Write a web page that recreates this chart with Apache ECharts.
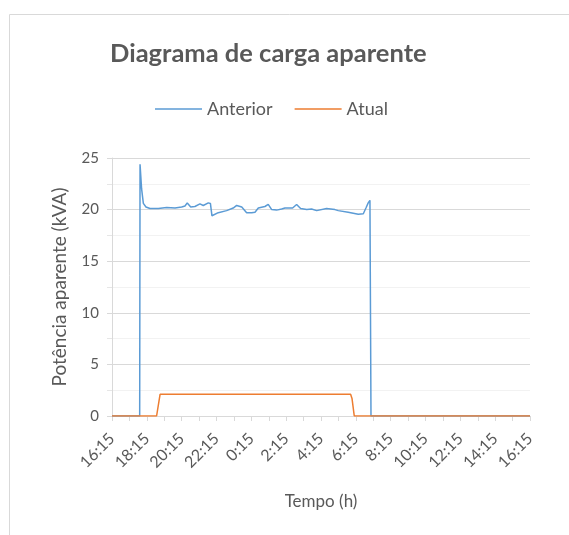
<!DOCTYPE html>
<html>
<head>
<meta charset="utf-8">
<script src="https://cdn.jsdelivr.net/npm/echarts@6/dist/echarts.min.js"></script>
<style>html,body{margin:0;padding:0;background:#fff}#c{width:569px;height:535px}</style>
</head>
<body>
<div id="c"></div>
<script>
// Hours elapsed since 16:15
const tickLabels = ['16:15','18:15','20:15','22:15','0:15','2:15','4:15','6:15','8:15','10:15','12:15','14:15','16:15'];
const anteriorHours = [0, 1.59, 1.61, 1.64, 1.70, 1.80, 1.95, 2.18, 2.66, 3.14, 3.62, 4.00, 4.19, 4.32, 4.52, 4.76, 5.05, 5.24, 5.53, 5.65, 5.74, 6.10, 6.58, 6.96, 7.16, 7.45, 7.73, 8.02, 8.21, 8.40, 8.78, 8.97, 9.17, 9.45, 9.74, 9.93, 10.37, 10.60, 10.83, 11.18, 11.46, 11.75, 12.32, 12.80, 12.99, 13.56, 14.14, 14.43, 14.58, 14.71, 14.81, 14.85, 14.87, 24];
const anteriorKVA   = [0, 0, 24.4, 24.4, 22.0, 20.6, 20.25, 20.1, 20.1, 20.2, 20.15, 20.25, 20.35, 20.65, 20.25, 20.3, 20.55, 20.4, 20.65, 20.6, 19.4, 19.7, 19.9, 20.15, 20.4, 20.25, 19.7, 19.7, 19.75, 20.15, 20.3, 20.5, 20.0, 19.95, 20.05, 20.15, 20.15, 20.5, 20.1, 20.0, 20.05, 19.9, 20.1, 20.0, 19.9, 19.75, 19.55, 19.6, 20.15, 20.65, 20.9, 20.9, 0, 0];
const atualHours = [0, 2.56, 2.76, 13.70, 13.78, 13.91, 24];
const atualKVA   = [0, 0, 2.1, 2.1, 1.7, 0, 0];

const zip = (xs, ys) => xs.map((x, i) => [x, ys[i]]);
const textColor = '#595959';
const font = 'Lato, "Liberation Sans", sans-serif';

const chart = echarts.init(document.getElementById('c'));
chart.setOption({
  animation: false,
  textStyle: { fontFamily: font, color: textColor },
  graphic: [{
    type: 'rect', left: 7, top: 12, silent: true,
    shape: { x: 0.5, y: 0.5, width: 700, height: 700 },
    style: { fill: 'none', stroke: '#d9d9d9', lineWidth: 1 }
  }],
  title: {
    text: 'Diagrama de carga aparente',
    left: 105, top: 36,
    textStyle: { fontFamily: font, fontSize: 25.5, fontWeight: 'bold', color: textColor }
  },
  legend: {
    left: 150, top: 95,
    itemWidth: 47, itemHeight: 1.5, itemGap: 22,
    textStyle: { fontFamily: font, fontSize: 18, color: textColor },
    data: [{ name: 'Anterior', icon: 'rect' }, { name: 'Atual', icon: 'rect' }]
  },
  grid: { left: 112, right: 39, top: 158, bottom: 119, containLabel: false },
  xAxis: {
    type: 'value', min: 0, max: 24, interval: 2,
    name: 'Tempo (h)', nameLocation: 'middle', nameGap: 77,
    nameTextStyle: { fontFamily: font, fontSize: 17, color: textColor },
    axisLine: { show: true, lineStyle: { color: '#d9d9d9', width: 1 } },
    axisTick: { show: true, length: 5, lineStyle: { color: '#d9d9d9' } },
    minorTick: { show: true, splitNumber: 2, length: 5, lineStyle: { color: '#d9d9d9' } },
    splitLine: { show: false },
    axisLabel: {
      rotate: 45, margin: 20, fontSize: 16, color: textColor, fontFamily: font,
      showMinLabel: true, showMaxLabel: true,
      formatter: v => tickLabels[Math.round(v / 2)]
    }
  },
  yAxis: {
    type: 'value', min: 0, max: 25, interval: 5,
    name: 'Potência aparente (kVA)', nameLocation: 'middle', nameGap: 43, nameRotate: 90,
    nameTextStyle: { fontFamily: font, fontSize: 19, color: textColor },
    axisLine: { show: true, lineStyle: { color: '#d9d9d9', width: 1 } },
    axisTick: { show: true, length: 5, lineStyle: { color: '#d9d9d9' } },
    minorTick: { show: true, splitNumber: 2, length: 5, lineStyle: { color: '#e6e6e6' } },
    splitLine: { show: true, lineStyle: { color: '#d9d9d9', width: 1 } },
    minorSplitLine: { show: true, lineStyle: { color: '#f2f2f2', width: 1 } },
    axisLabel: { fontSize: 15, color: textColor, fontFamily: font, margin: 13 }
  },
  series: [
    {
      name: 'Anterior', type: 'line', symbol: 'none', smooth: false,
      lineStyle: { color: '#5B9BD5', width: 1.5 }, itemStyle: { color: '#5B9BD5' },
      data: zip(anteriorHours, anteriorKVA)
    },
    {
      name: 'Atual', type: 'line', symbol: 'none', smooth: false,
      lineStyle: { color: '#ED7D31', width: 1.5 }, itemStyle: { color: '#ED7D31' },
      data: zip(atualHours, atualKVA)
    }
  ]
});
</script>
</body>
</html>
